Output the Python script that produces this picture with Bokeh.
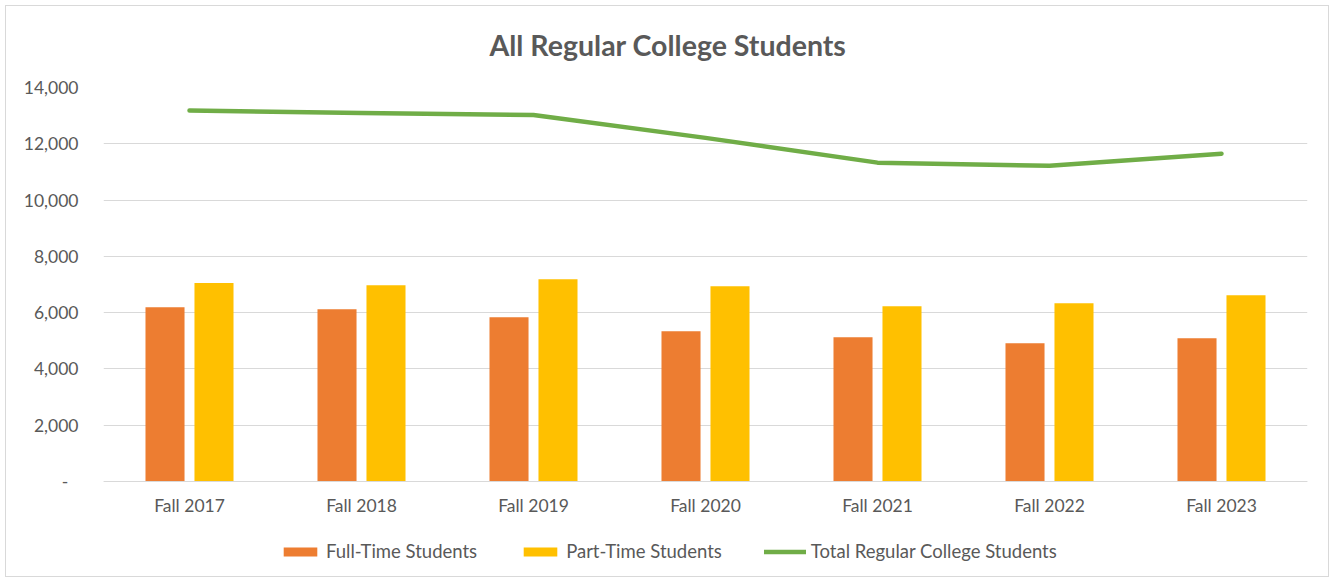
from bokeh.plotting import figure
from bokeh.models import (FactorRange, Legend, LegendItem, NumeralTickFormatter,
                          ColumnDataSource, FixedTicker)
from bokeh.transform import dodge
from bokeh.embed import file_html
from bokeh.resources import INLINE

categories = ["Fall 2017", "Fall 2018", "Fall 2019", "Fall 2020",
              "Fall 2021", "Fall 2022", "Fall 2023"]
full_time = [6190, 6120, 5840, 5340, 5125, 4910, 5090]
part_time = [7050, 6975, 7190, 6940, 6230, 6335, 6620]
total = [13180, 13090, 13020, 12210, 11330, 11220, 11650]
y_ticks = [0, 2000, 4000, 6000, 8000, 10000, 12000, 14000]

TEXT = "#595959"
GRID = "#d9d9d9"
FONT = "Lato"

src = ColumnDataSource(dict(cat=categories, ft=full_time, pt=part_time, tot=total))

# frame extends below the zero line so the legend can sit inside it
p = figure(width=1334, height=582, x_range=FactorRange(*categories),
           y_range=(-3447, 14000), output_backend="svg", toolbar_location=None,
           min_border_left=103, min_border_right=27, min_border_top=87,
           min_border_bottom=4)
p.border_fill_color = None
p.background_fill_color = None
p.styles = {"outline": "1px solid #d9d9d9", "outline-offset": "-6px"}

p.title.text = "All Regular College Students"
p.title.align = "left"
p.title.offset = 386
p.title.text_font = FONT
p.title.text_font_size = "28.5px"
p.title.text_font_style = "bold"
p.title.text_color = TEXT
p.title.standoff = 51

r_ft = p.vbar(x=dodge("cat", -0.1424, range=p.x_range), top="ft", width=0.227,
              source=src, color="#ed7d31", line_color=None)
r_pt = p.vbar(x=dodge("cat", 0.1424, range=p.x_range), top="pt", width=0.227,
              source=src, color="#ffc000", line_color=None)
r_tot = p.line(x="cat", y="tot", source=src, line_color="#70ad47",
               line_width=4.5, line_cap="round", line_join="round")

p.outline_line_color = None
p.xgrid.grid_line_color = None
p.ygrid.ticker = FixedTicker(ticks=y_ticks)
p.ygrid.grid_line_color = GRID
p.ygrid.grid_line_width = 1

p.yaxis.ticker = FixedTicker(ticks=y_ticks)
p.yaxis.formatter = NumeralTickFormatter(format="0,0")
p.yaxis.major_label_overrides = {0: "-\u2007"}
p.yaxis.axis_line_color = None
p.yaxis.major_tick_line_color = None
p.yaxis.minor_tick_line_color = None
p.yaxis.major_label_text_font = FONT
p.yaxis.major_label_text_font_size = "17.5px"
p.yaxis.major_label_text_color = TEXT
p.yaxis.major_label_standoff = 19

p.xaxis.fixed_location = 0
p.xaxis.axis_line_color = GRID
p.xaxis.axis_line_width = 1
p.xaxis.major_tick_line_color = None
p.xaxis.minor_tick_line_color = None
p.xaxis.major_label_text_font = FONT
p.xaxis.major_label_text_font_size = "17.5px"
p.xaxis.major_label_text_color = TEXT
p.xaxis.major_label_standoff = 8

legend = Legend(items=[
    LegendItem(label="Full-Time Students", renderers=[r_ft]),
    LegendItem(label="Part-Time Students", renderers=[r_pt]),
    LegendItem(label="Total Regular College Students", renderers=[r_tot]),
], orientation="horizontal", location=(176, 16))
legend.glyph_width = 42
legend.glyph_height = 11
legend.label_standoff = 5
legend.spacing = 42
legend.margin = 0
legend.padding = 4
legend.border_line_color = None
legend.background_fill_alpha = 0
legend.label_text_font = FONT
legend.label_text_font_size = "18.5px"
legend.label_text_color = TEXT
p.add_layout(legend, "center")

open("out.html", "w").write(file_html(p, INLINE))
